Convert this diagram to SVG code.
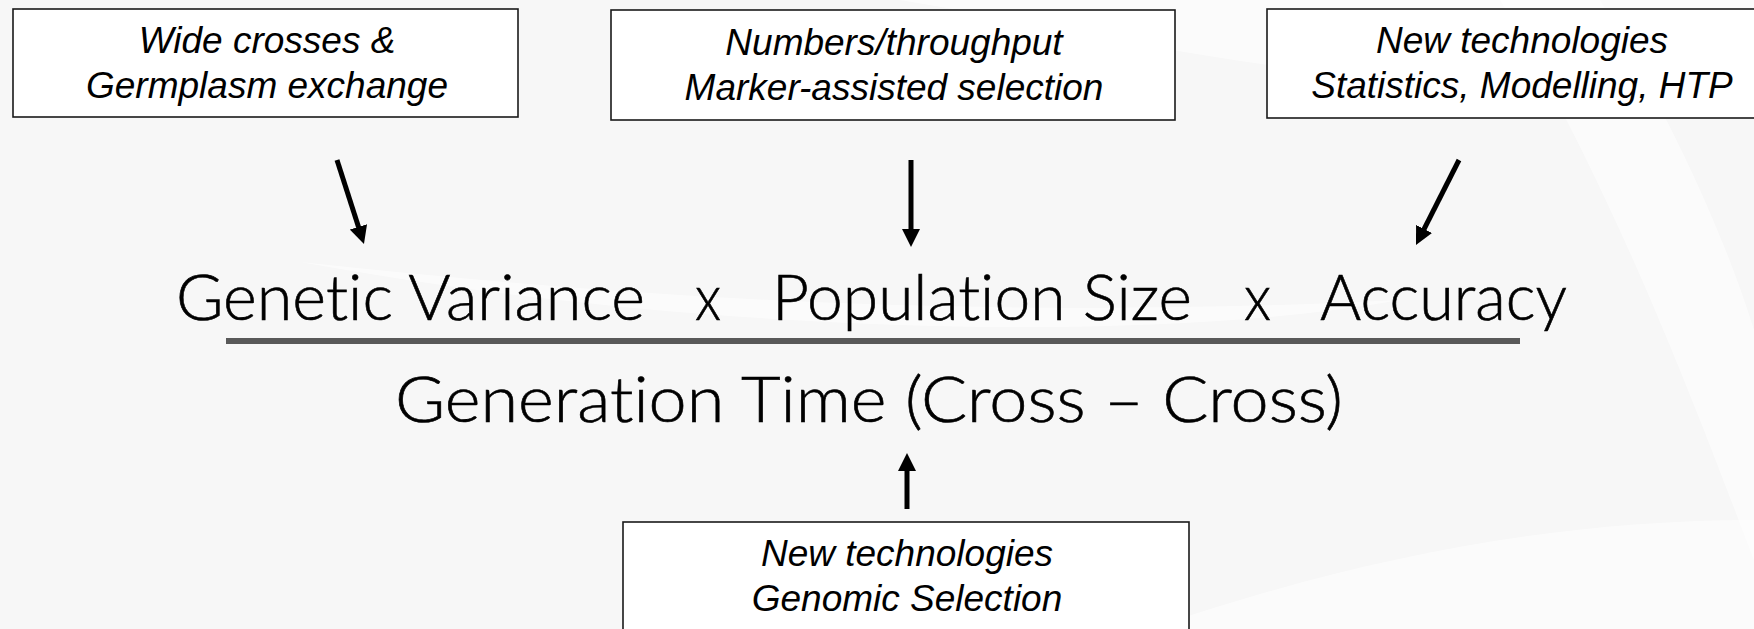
<svg xmlns="http://www.w3.org/2000/svg" width="1754" height="629" viewBox="0 0 1754 629">
  <defs>
    <marker id="ah" markerUnits="userSpaceOnUse" markerWidth="18" markerHeight="18" viewBox="0 0 18 18" refX="6" refY="9" orient="auto">
      <path d="M0,0 L18,9 L0,18 z" fill="#000"/>
    </marker>
  </defs>
  <style>
    .box { fill: #ffffff; stroke: #1a1a1a; stroke-width: 1.6; }
    .btxt { font-family: "Liberation Sans", Arial, sans-serif; font-style: italic; font-size: 37px; fill: #000; text-anchor: middle; }
    .eq { font-family: Lato, "Open Sans", "Liberation Sans", sans-serif; font-weight: 300; font-size: 63px; fill: #000; font-variant-ligatures: none; font-feature-settings: "liga" 0, "clig" 0; stroke: #000; stroke-width: 0.6; }
    .arrow { stroke: #000; stroke-width: 5; fill: none; marker-end: url(#ah); }
    .swoosh { fill: #ffffff; opacity: 0.55; }
  </style>

  <g id="background">
    <rect x="0" y="0" width="1754" height="629" fill="#f7f7f7"/>
    <path class="swoosh" d="M900,0 C1150,40 1400,120 1754,60 L1754,0 Z"/>
    <path class="swoosh" d="M1500,0 C1620,200 1700,420 1754,560 L1754,330 C1720,220 1660,100 1600,0 Z"/>
    <path class="swoosh" d="M300,262 C650,300 1000,320 1400,300 C1150,345 700,335 300,262 Z"/>
    <path class="swoosh" d="M1150,629 C1350,560 1550,520 1754,520 L1754,629 Z"/>
  </g>

  <g id="node-genetic-variance-source">
    <rect class="box" x="13" y="9" width="505" height="108"/>
    <text class="btxt" x="267" y="53">Wide crosses &amp;</text>
    <text class="btxt" x="267" y="98">Germplasm exchange</text>
  </g>

  <g id="node-population-size-source">
    <rect class="box" x="611" y="10" width="564" height="110"/>
    <text class="btxt" x="894" y="55">Numbers/throughput</text>
    <text class="btxt" x="894" y="100">Marker-assisted selection</text>
  </g>

  <g id="node-accuracy-source">
    <rect class="box" x="1267" y="9" width="500" height="109"/>
    <text class="btxt" x="1522" y="53">New technologies</text>
    <text class="btxt" x="1522" y="98">Statistics, Modelling, HTP</text>
  </g>

  <g id="node-generation-time-source">
    <rect class="box" x="623" y="522" width="566" height="120"/>
    <text class="btxt" x="907" y="566">New technologies</text>
    <text class="btxt" x="907" y="611">Genomic Selection</text>
  </g>

  <g id="node-equation">
    <text class="eq" x="176" y="320" textLength="469" lengthAdjust="spacingAndGlyphs">Genetic Variance</text>
    <text class="eq" x="695" y="320" textLength="26" lengthAdjust="spacingAndGlyphs">x</text>
    <text class="eq" x="772" y="320" textLength="420" lengthAdjust="spacingAndGlyphs">Population Size</text>
    <text class="eq" x="1244" y="320" textLength="27" lengthAdjust="spacingAndGlyphs">x</text>
    <text class="eq" x="1320" y="320" textLength="247" lengthAdjust="spacingAndGlyphs">Accuracy</text>
    <rect x="226" y="338" width="1294" height="6" fill="#595959"/>
    <text class="eq" x="395" y="422" textLength="948" lengthAdjust="spacingAndGlyphs">Generation Time (Cross – Cross)</text>
  </g>

  <g id="connectors">
    <line class="arrow" x1="337" y1="160" x2="360.3" y2="232.6"/>
    <line class="arrow" x1="911" y1="160" x2="911" y2="235"/>
    <line class="arrow" x1="1459" y1="160" x2="1421.4" y2="234.3"/>
    <line class="arrow" x1="907" y1="509" x2="907" y2="465"/>
  </g>
</svg>
